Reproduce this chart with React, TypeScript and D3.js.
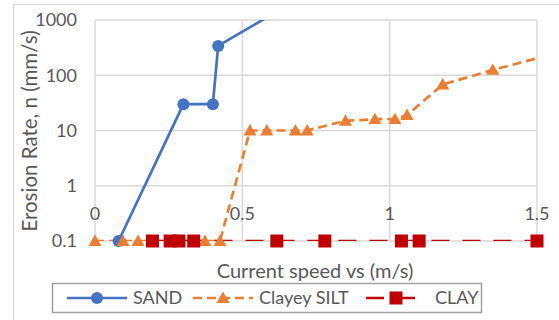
import React from 'react';
import * as d3 from 'd3';

const sandX = [0.08, 0.3, 0.4, 0.418, 0.65];
const sandY = [0.1, 30, 30, 340, 1800];

const siltX = [0, 0.095, 0.146, 0.373, 0.424, 0.526, 0.583, 0.68, 0.72, 0.85, 0.95, 1.018, 1.059, 1.18, 1.35, 1.6];
const siltY = [0.1, 0.1, 0.1, 0.1, 0.1, 10, 10, 10, 10, 15, 16, 16, 19, 68, 125, 280];

const clayX = [0.195, 0.255, 0.285, 0.335, 0.617, 0.78, 1.04, 1.1, 1.5];
const clayY = [0.1, 0.1, 0.1, 0.1, 0.1, 0.1, 0.1, 0.1, 0.1];

const xTicks = [0, 0.5, 1, 1.5];
const yTicks = [0.1, 1, 10, 100, 1000];
const legendNames = ['SAND', 'Clayey SILT', 'CLAY'];

const W = 559, H = 320;
const FONT = 'Lato, "Liberation Sans", sans-serif';
const TXT = '#595959';
const GRID = '#d9d9d9';

const x = d3.scaleLinear().domain([0, 1.5]).range([95, 537]);
const y = d3.scaleLog().domain([0.1, 1000]).range([241, 20]);

const line = d3.line<[number, number]>().x(d => x(d[0])).y(d => y(d[1]));

const zip = (xs: number[], ys: number[]) => xs.map((v, i) => [v, ys[i]] as [number, number]);

const sand = zip(sandX, sandY);
const silt = zip(siltX, siltY);
const clay = zip(clayX, clayY);

const inside = (d: [number, number]) => d[0] >= 0 && d[0] <= 1.5 && d[1] >= 0.1 && d[1] <= 1000;

const tri = (cx: number, cy: number, s = 6.5) =>
  `M${cx},${cy - s}L${cx + s},${cy + s * 0.75}L${cx - s},${cy + s * 0.75}Z`;

const series = [
  { name: legendNames[0], data: sand, color: '#4472C4', dash: undefined as string | undefined, marker: 'circle' },
  { name: legendNames[1], data: silt, color: '#ED7D31', dash: '9,5', marker: 'triangle' },
  { name: legendNames[2], data: clay, color: '#C00000', dash: '18,13', marker: 'square' },
];

const Marker = ({ kind, cx, cy, color }: { kind: string; cx: number; cy: number; color: string }) => {
  if (kind === 'circle') return <circle cx={cx} cy={cy} r={6} fill={color} />;
  if (kind === 'triangle') return <path d={tri(cx, cy)} fill={color} />;
  return <rect x={cx - 6.5} y={cy - 6.5} width={13} height={13} fill={color} />;
};

const legendPos = [
  { mid: 97, text: 133 },
  { mid: 223, text: 259 },
  { mid: 396, text: 435 },
];

export default function App() {
  return (
    <svg width={W} height={H} style={{ position: 'absolute', left: 0, top: 0, background: '#fff' }}>
      <defs>
        <clipPath id="plot">
          <rect x={x(0)} y={y(1000)} width={x(1.5) - x(0)} height={y(0.1) - y(1000)} />
        </clipPath>
      </defs>
      <rect x={13.5} y={4.5} width={700} height={500} fill="#fff" stroke={GRID} />

      {/* grid */}
      {yTicks.map(t => (
        <line key={'gy' + t} x1={x(0)} x2={x(1.5)} y1={y(t)} y2={y(t)} stroke={GRID} strokeWidth={1.5} />
      ))}
      {xTicks.map(t => (
        <line key={'gx' + t} x1={x(t)} x2={x(t)} y1={y(1000)} y2={y(0.1)} stroke={GRID} strokeWidth={1.5} />
      ))}

      {/* tick labels */}
      {yTicks.map(t => (
        <text key={'ty' + t} x={77} y={y(t)} dy="0.35em" textAnchor="end" fontFamily={FONT} fontSize={18} fill={TXT}>
          {d3.format('~g')(t)}
        </text>
      ))}
      {xTicks.map(t => (
        <text key={'tx' + t} x={x(t)} y={y(1) + 28} dy="0.35em" textAnchor="middle" fontFamily={FONT} fontSize={18} fill={TXT}>
          {String(t)}
        </text>
      ))}

      {/* series */}
      {series.map(s => (
        <g key={s.name}>
          <path d={line(s.data) || ''} fill="none" stroke={s.color} strokeWidth={2.7} strokeDasharray={s.dash} clipPath="url(#plot)" />
        </g>
      ))}
      {series.map(s => (
        <g key={s.name + 'm'}>
          {s.data.filter(inside).map((d, i) => (
            <Marker key={i} kind={s.marker} cx={x(d[0])} cy={y(d[1])} color={s.color} />
          ))}
        </g>
      ))}

      {/* axis titles */}
      <text x={315} y={271} dy="0.35em" textAnchor="middle" fontFamily={FONT} fontSize={20} fill={TXT}>
        Current speed vs (m/s)
      </text>
      <text transform="translate(30,131) rotate(-90)" dy="0.35em" textAnchor="middle" fontFamily={FONT} fontSize={20.5} fill={TXT}>
        Erosion Rate, n (mm/s)
      </text>

      {/* legend */}
      <rect x={52.5} y={283.5} width={429} height={29} fill="#fff" stroke="#a0a0a0" strokeWidth={1.5} />
      {series.map((s, i) => {
        const p = legendPos[i];
        return (
          <g key={s.name + 'l'}>
            <line x1={p.mid - 30} x2={p.mid + 30} y1={298} y2={298} stroke={s.color} strokeWidth={2.7} strokeDasharray={s.dash} />
            <Marker kind={s.marker} cx={p.mid} cy={298} color={s.color} />
            <text x={p.text} y={298} dy="0.35em" fontFamily={FONT} fontSize={18} fill={TXT}>
              {s.name}
            </text>
          </g>
        );
      })}
    </svg>
  );
}
